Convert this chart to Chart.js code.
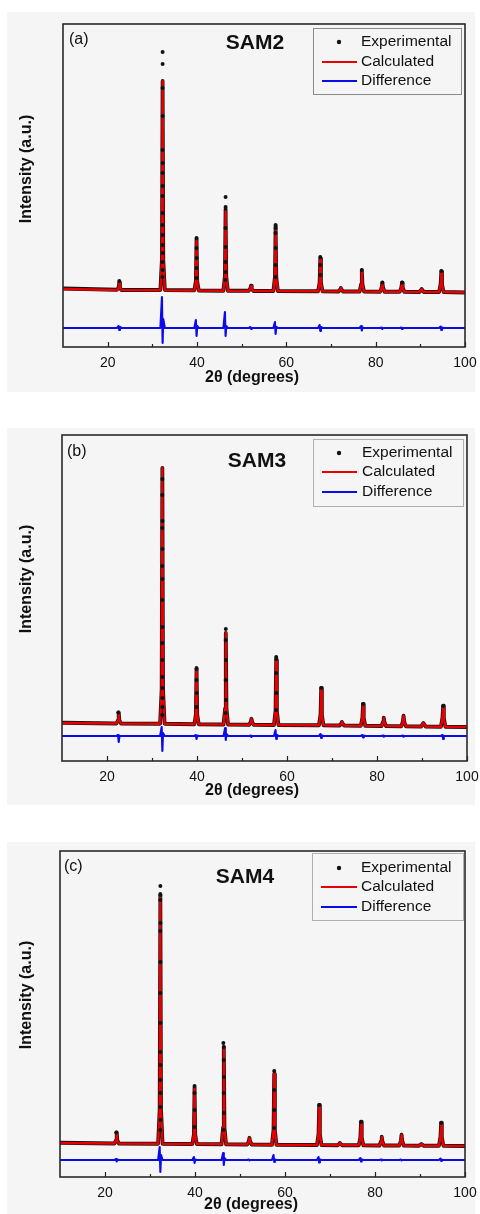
<!DOCTYPE html>
<html><head><meta charset="utf-8">
<script src="https://cdn.jsdelivr.net/npm/chart.js@4.4.1/dist/chart.umd.min.js"></script>
<style>
html,body{margin:0;padding:0;background:#fff;}
body{width:480px;height:1214px;position:relative;overflow:hidden;}
.bg{position:absolute;background:#f5f5f5;}
.panel{position:absolute;left:0;width:480px;}
</style></head><body>
<div class="bg" style="left:7px;top:12px;width:468px;height:380px"></div>
<div class="bg" style="left:7px;top:428px;width:468px;height:377px"></div>
<div class="bg" style="left:7px;top:842px;width:468px;height:372px"></div>
<div class="panel" style="top:0;height:405px"><canvas id="cA"></canvas></div>
<div class="panel" style="top:405px;height:405px"><canvas id="cB"></canvas></div>
<div class="panel" style="top:810px;height:404px"><canvas id="cC"></canvas></div>
<script>
// ---------- data ----------
const twoTheta = [10,
 22.1,22.45,22.6,22.75,23.1,
 31.8,32.15,32.3,32.45,32.8,
 39.4,39.75,39.9,40.05,40.4,
 45.9,46.25,46.4,46.55,46.9,
 51.6,51.95,52.1,52.25,52.6,
 57.1,57.45,57.6,57.75,58.1,
 67.1,67.45,67.6,67.75,68.1,
 71.7,72.05,72.2,72.35,72.7,
 76.4,76.75,76.9,77.05,77.4,
 81.0,81.35,81.5,81.65,82.0,
 85.4,85.75,85.9,86.05,86.4,
 89.8,90.15,90.3,90.45,90.8,
 94.2,94.55,94.7,94.85,95.2,
 100];
const xTickValues = [20,40,60,80,100];
const xMinorTickValues = [30,50,70,90];
const seriesNames = ['Experimental','Calculated','Difference'];
const sampleNames = ['SAM2','SAM3','SAM4'];
const panelLabels = ['(a)','(b)','(c)'];
const xTitle = '2\u03B8 (degrees)';
const yTitle = 'Intensity (a.u.)';

// SAM2
const calcA = [40,
 20,60,160,60,20,
 15,600,4200,600,15,
 10,180,1000,180,10,
 5,280,1590,280,5,
 0,50,100,50,0,
 0,260,1260,260,0,
 -5,160,620,160,-5,
 -10,30,60,30,-10,
 -10,130,400,130,-10,
 -15,70,160,70,-15,
 -15,70,160,70,-15,
 -20,20,40,20,-20,
 -20,140,380,140,-20,
 -30];
const obsA = [50,
 25,70,170,60,20,
 20,640,4200,620,20,
 15,200,1040,190,10,
 5,300,1640,290,5,
 5,55,105,45,0,
 0,280,1300,270,0,
 -5,170,650,165,-5,
 -10,30,60,30,-10,
 -10,135,410,130,-10,
 -15,75,165,70,-15,
 -15,75,165,70,-15,
 -20,20,40,20,-20,
 -20,150,390,140,-20,
 -30];
const diffA = [-740,
 -740,-700,-780,-720,-740,
 -740,-120,-1040,-560,-740,
 -740,-580,-900,-700,-740,
 -740,-420,-900,-700,-740,
 -740,-720,-760,-740,-740,
 -740,-620,-860,-720,-740,
 -740,-680,-800,-720,-740,
 -740,-740,-740,-740,-740,
 -740,-700,-790,-730,-740,
 -740,-730,-760,-740,-740,
 -740,-730,-760,-740,-740,
 -740,-740,-740,-740,-740,
 -740,-710,-780,-730,-740,
 -740];
const obsDotsA = [
 [22.6,200],
 [32.3,4780],[32.3,4540],[32.28,4060],[32.32,3500],[32.28,2820],[32.32,2560],[32.28,2360],[32.32,2100],[32.28,1900],[32.32,1560],[32.28,1320],[32.32,1120],[32.28,920],[32.32,760],[32.28,580],[32.32,420],[32.26,280],
 [39.9,1060],[39.88,860],[39.92,660],[39.88,460],[39.92,260],
 [46.4,1880],[46.4,1680],[46.38,1260],[46.42,880],[46.38,580],[46.42,380],[46.36,220],
 [57.6,1320],[57.6,1260],[57.58,1160],[57.62,860],[57.58,520],[57.62,280],
 [67.6,680],[67.58,520],[67.62,320],
 [76.9,420],[81.5,170],[85.9,170],[94.7,400]
];

// SAM3
const calcB = [40,
 30,90,240,90,30,
 25,700,5140,700,25,
 15,200,1140,200,15,
 10,320,1840,320,10,
 5,60,120,60,5,
 0,270,1300,270,0,
 -5,200,740,200,-5,
 -10,30,60,30,-10,
 -15,140,420,140,-15,
 -20,60,140,60,-20,
 -25,70,180,70,-25,
 -30,20,40,20,-30,
 -35,140,380,140,-35,
 -40];
const obsB = [45,
 30,95,250,95,30,
 25,720,5140,710,25,
 15,210,1140,205,15,
 10,330,1840,330,10,
 5,65,125,60,5,
 0,280,1300,275,0,
 -5,210,740,205,-5,
 -10,30,60,30,-10,
 -15,145,420,140,-15,
 -20,65,145,60,-20,
 -25,75,185,70,-25,
 -30,20,40,20,-30,
 -35,150,385,145,-35,
 -40];
const diffB = [-220,
 -220,-200,-340,-230,-220,
 -220,-40,-520,-160,-220,
 -220,-200,-280,-210,-220,
 -220,-60,-300,-180,-220,
 -220,-210,-240,-220,-220,
 -220,-100,-280,-200,-220,
 -220,-180,-260,-210,-220,
 -220,-220,-220,-220,-220,
 -220,-200,-250,-210,-220,
 -220,-210,-235,-220,-220,
 -220,-210,-235,-220,-220,
 -220,-220,-220,-220,-220,
 -220,-200,-280,-215,-220,
 -220];
const obsDotsB = [
 [22.5,250],
 [32.3,4920],[32.28,4600],[32.32,4080],[32.28,3940],[32.32,3520],[32.28,3180],[32.32,2920],[32.28,2500],[32.32,1960],[32.28,1640],[32.32,1300],[32.28,960],[32.32,740],[32.28,540],[32.32,360],[32.28,200],
 [39.9,1120],[39.88,900],[39.92,640],[39.88,360],
 [46.4,1920],[46.38,1700],[46.42,1300],[46.38,900],[46.42,500],[46.38,240],
 [57.6,1360],[57.6,1320],[57.58,1040],[57.62,640],[57.58,300],
 [67.6,740],[76.9,420],[94.7,380]
];

// SAM4
const calcC = [40,
 30,90,240,90,30,
 25,700,5020,700,25,
 20,200,1140,200,20,
 15,340,1960,340,15,
 10,70,140,70,10,
 5,290,1420,290,5,
 0,210,800,210,0,
 -5,20,40,20,-5,
 -5,150,460,150,-5,
 -10,70,160,70,-10,
 -10,80,200,80,-10,
 -15,10,20,10,-15,
 -15,160,440,160,-15,
 -20];
const obsC = [45,
 30,95,250,90,30,
 25,720,5020,710,25,
 20,210,1150,205,20,
 15,350,1960,345,15,
 10,75,145,70,10,
 5,300,1420,295,5,
 0,220,800,215,0,
 -5,20,40,20,-5,
 -5,155,465,150,-5,
 -10,75,165,70,-10,
 -10,85,205,80,-10,
 -15,10,20,10,-15,
 -15,165,445,160,-15,
 -20];
const diffC = [-300,
 -300,-280,-330,-290,-300,
 -300,-40,-540,-200,-300,
 -300,-240,-360,-290,-300,
 -300,-160,-400,-260,-300,
 -300,-290,-310,-300,-300,
 -300,-200,-340,-290,-300,
 -300,-240,-350,-290,-300,
 -300,-300,-300,-300,-300,
 -300,-260,-330,-290,-300,
 -300,-290,-310,-300,-300,
 -300,-290,-310,-300,-300,
 -300,-300,-300,-300,-300,
 -300,-270,-320,-295,-300,
 -300];
const obsDotsC = [
 [22.5,250],
 [32.3,5180],[32.3,5000],[32.28,4900],[32.32,4440],[32.28,4280],[32.32,3660],[32.28,3040],[32.32,2440],[32.28,1860],[32.32,1600],[32.28,1300],[32.32,1040],[32.28,760],[32.32,500],[32.28,300],
 [39.9,1180],[39.88,1040],[39.92,700],[39.88,360],
 [46.3,2040],[46.4,1960],[46.38,1700],[46.42,1360],[46.38,1040],[46.42,640],[46.38,300],
 [57.6,1480],[57.58,1100],[57.62,700],[57.58,340],
 [67.6,800],[76.9,460],[94.7,440]
];

// ---------- drawing ----------
const FONT = 'Arial, "Liberation Sans", Helvetica, sans-serif';
const RED = 'rgb(232,0,0)', BLUE = 'rgb(10,10,235)', BLACK = 'rgb(18,18,18)';

const decor = {
  id: 'panelDecor',
  afterDatasetsDraw(chart, args, o) {
    const ctx = chart.ctx, a = chart.chartArea, xs = chart.scales.x;
    ctx.save();
    ctx.strokeStyle = '#222'; ctx.lineWidth = 1.2;
    xTickValues.forEach(v => { const px = Math.round(xs.getPixelForValue(v)) + 0.5;
      ctx.beginPath(); ctx.moveTo(px, a.bottom); ctx.lineTo(px, a.bottom - 5); ctx.stroke(); });
    xMinorTickValues.forEach(v => { const px = Math.round(xs.getPixelForValue(v)) + 0.5;
      ctx.beginPath(); ctx.moveTo(px, a.bottom); ctx.lineTo(px, a.bottom - 3); ctx.stroke(); });
    ctx.strokeStyle = '#2a2a2a'; ctx.lineWidth = 1.6;
    ctx.strokeRect(a.left, a.top, a.right - a.left, a.bottom - a.top);
    ctx.restore();
  },
  afterDraw(chart, args, o) {
    const ctx = chart.ctx;
    ctx.save();
    ctx.fillStyle = '#111';
    ctx.textBaseline = 'middle';
    ctx.font = '16px ' + FONT; ctx.textAlign = 'left';
    ctx.fillText(o.panel, o.panelX, o.panelY);
    ctx.font = 'bold 21px ' + FONT; ctx.textAlign = 'center';
    ctx.fillText(o.sample, o.sampleX, o.sampleY);
    ctx.font = 'bold 16px ' + FONT;
    ctx.fillText(xTitle, o.xtX, o.xtY);
    ctx.save(); ctx.translate(o.ytX, o.ytY); ctx.rotate(-Math.PI / 2);
    ctx.fillText(yTitle, 0, 0); ctx.restore();
    const L = o.legend;
    ctx.strokeStyle = L.border; ctx.lineWidth = 1;
    ctx.strokeRect(L.x1 + 0.5, L.y1 + 0.5, L.x2 - L.x1, L.y2 - L.y1);
    ctx.font = '15.5px ' + FONT; ctx.textAlign = 'left'; ctx.fillStyle = '#111';
    const ds = chart.data.datasets;
    const items = seriesNames.map(n => ds.find(d => d.label === n));
    items.forEach((d, i) => {
      const y = L.rows[i];
      if (i === 0) {
        ctx.beginPath(); ctx.arc(L.dotX, y, 2.2, 0, Math.PI * 2); ctx.fillStyle = BLACK; ctx.fill();
      } else {
        ctx.strokeStyle = d.borderColor; ctx.lineWidth = 2;
        ctx.beginPath(); ctx.moveTo(L.lx1, y); ctx.lineTo(L.lx2, y); ctx.stroke();
      }
      ctx.fillStyle = '#111';
      ctx.fillText(d.label, L.tx, y);
    });
    ctx.restore();
  }
};

function xy(xs, ys) { return xs.map((x, i) => ({x: x, y: ys[i]})); }
function pairs(p) { return p.map(q => ({x: q[0], y: q[1]})); }

function makePanel(id, idx, obs, calc, diff, dots, yMin, yMax, lay) {
  new Chart(document.getElementById(id), {
    type: 'scatter',
    data: {
      datasets: [
        {label: seriesNames[0] + ' points', data: pairs(dots), showLine: false, pointRadius: 2, pointBackgroundColor: BLACK, pointBorderWidth: 0},
        {label: seriesNames[1], data: xy(twoTheta, calc), showLine: true, borderColor: RED, borderWidth: 2.4, pointRadius: 0, borderJoinStyle: 'round', borderCapStyle: 'round'},
        {label: seriesNames[0], data: xy(twoTheta, obs), showLine: true, borderColor: BLACK, borderWidth: 3.8, pointRadius: 0, borderJoinStyle: 'round', borderCapStyle: 'round'},
        {label: seriesNames[2], data: xy(twoTheta, diff), showLine: true, borderColor: BLUE, borderWidth: 2.1, pointRadius: 0, borderJoinStyle: 'round', borderCapStyle: 'round'}
      ]
    },
    options: {
      responsive: true, maintainAspectRatio: false, animation: false, events: [],
      layout: {padding: {left: 0, top: lay.top, right: lay.right, bottom: lay.bottom}},
      plugins: {
        legend: {display: false}, tooltip: {enabled: false},
        panelDecor: {panel: panelLabels[idx], sample: sampleNames[idx],
          panelX: lay.panelX, panelY: lay.panelY, sampleX: lay.sampleX, sampleY: lay.sampleY,
          xtX: lay.xtX, xtY: lay.xtY, ytX: 27, ytY: lay.ytY, legend: lay.legend}
      },
      scales: {
        x: {type: 'linear', min: 10, max: 100,
          grid: {display: false, drawTicks: false}, border: {display: false},
          afterBuildTicks: s => { s.ticks = xTickValues.map(v => ({value: v})); },
          ticks: {font: {family: FONT, size: 14}, color: '#111', padding: 8, maxRotation: 0, autoSkip: false},
          afterFit: s => { s.height = 30; s.paddingLeft = 0; s.paddingRight = 0; }},
        y: {type: 'linear', min: yMin, max: yMax,
          grid: {display: false, drawTicks: false}, border: {display: false},
          ticks: {display: false},
          afterFit: s => { s.width = lay.left; s.paddingTop = 0; s.paddingBottom = 0; }}
      }
    },
    plugins: [decor]
  });
}

makePanel('cA', 0, obsA, calcA, diffA, obsDotsA, -1120, 5340, {
  top: 24, right: 15, bottom: 28, left: 63,
  panelX: 69, panelY: 40, sampleX: 255, sampleY: 43, xtX: 252, xtY: 378, ytY: 169,
  legend: {x1: 313, y1: 28, x2: 461, y2: 94, rows: [42, 62, 81], dotX: 339, lx1: 322, lx2: 357, tx: 361, border: '#8a8a8a'}
});
makePanel('cB', 1, obsB, calcB, diffB, obsDotsB, -720, 5800, {
  top: 30, right: 13, bottom: 19, left: 62,
  panelX: 67, panelY: 47, sampleX: 257, sampleY: 56, xtX: 252, xtY: 386, ytY: 174,
  legend: {x1: 313, y1: 34, x2: 463, y2: 101, rows: [48, 67, 87], dotX: 339, lx1: 322, lx2: 357, tx: 362, border: '#b0b0b0'}
});
makePanel('cC', 2, obsC, calcC, diffC, obsDotsC, -640, 5880, {
  top: 41, right: 15, bottom: 7, left: 60,
  panelX: 64, panelY: 57, sampleX: 245, sampleY: 67, xtX: 251, xtY: 395, ytY: 185,
  legend: {x1: 312, y1: 43, x2: 463, y2: 110, rows: [58, 77, 97], dotX: 339, lx1: 321, lx2: 357, tx: 361, border: '#b0b0b0'}
});
</script>
</body></html>
